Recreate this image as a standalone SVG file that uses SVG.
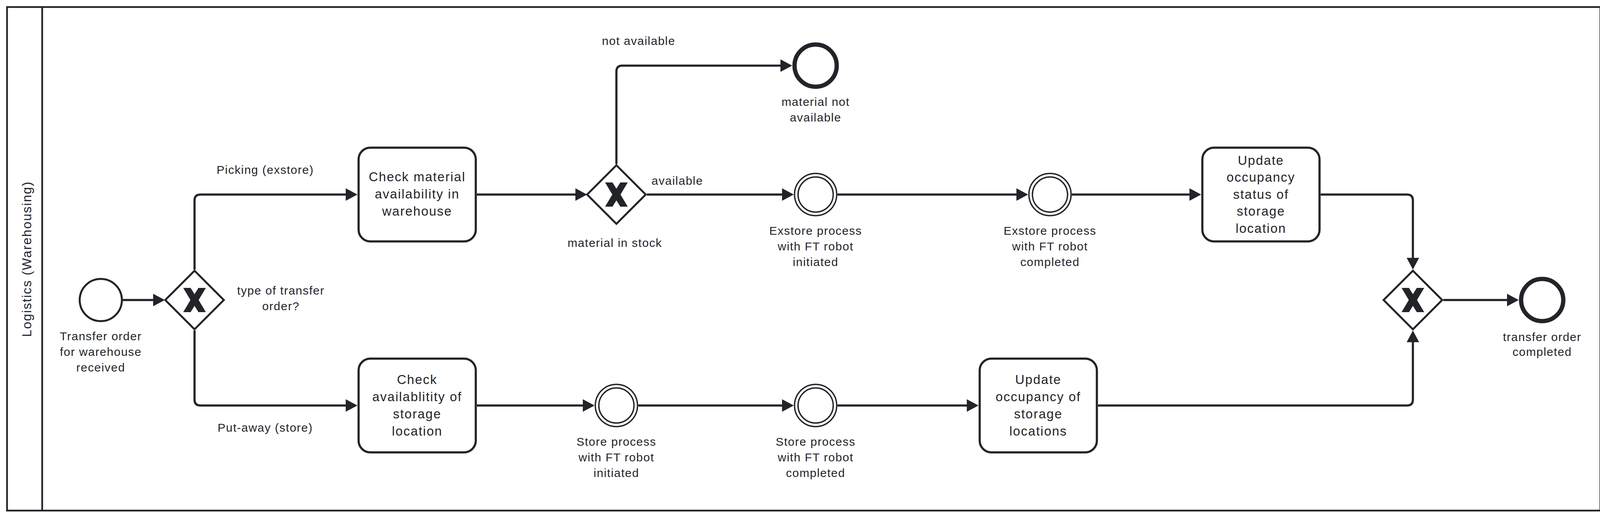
<svg xmlns="http://www.w3.org/2000/svg" xmlns:xlink="http://www.w3.org/1999/xlink" width="4116" height="1326" viewBox="0 0 4116 1326">
<style>
.ln{fill:none;stroke:#22242a;stroke-width:5.5;stroke-linejoin:round}
.task{fill:#fff;stroke:#22242a;stroke-width:5.5}
.gw{fill:#fff;stroke:#22242a;stroke-width:5;stroke-linejoin:miter}
.start{fill:#fff;stroke:#22242a;stroke-width:5}
.end{fill:#fff;stroke:#22242a;stroke-width:11}
.inter{fill:#fff;stroke:#22242a;stroke-width:3.5}
.mk{fill:#22242a;stroke:none}
.tt{font-family:"Liberation Sans",Arial,sans-serif;font-size:33px;letter-spacing:2px;fill:#22242a;text-anchor:middle}
.lb{font-family:"Liberation Sans",Arial,sans-serif;font-size:30px;letter-spacing:1.5px;fill:#22242a;text-anchor:middle}
</style>
<defs>
<marker id="arrow" markerUnits="userSpaceOnUse" viewBox="0 0 30 32" markerWidth="30" markerHeight="32" refX="20" refY="16" orient="auto">
<path d="M0,0 L30,16 L0,32 Z" fill="#22242a"/>
</marker>
<path id="xmark" d="M-29,-31 L-10,-31 L0,-15 L10,-31 L29,-31 L10.5,0 L29,31 L10,31 L0,15 L-10,31 L-29,31 L-10.5,0 Z"/>
</defs>
<rect width="4116" height="1326" fill="#fff"/>
<g id="lane">
<rect x="18" y="18" width="4079" height="1289" fill="none" stroke="#22242a" stroke-width="4.5"/>
<line x1="108" y1="18" x2="108" y2="1307" stroke="#22242a" stroke-width="4.5"/>
<text class="tt" transform="translate(80,663) rotate(-90)">Logistics (Warehousing)</text>
</g>
<g id="connectors" marker-end="url(#arrow)">
<path class="ln" d="M314,768 L412,768"/>
<path class="ln" d="M498,690 L498,513 Q498,498 513,498 L905,498"/>
<path class="ln" d="M498,846 L498,1023 Q498,1038 513,1038 L905,1038"/>
<path class="ln" d="M1221,498 L1493,498"/>
<path class="ln" d="M1578,420 L1578,183 Q1578,168 1593,168 L2018,168"/>
<path class="ln" d="M1656,498 L2022,498"/>
<path class="ln" d="M2144,498 L2622,498"/>
<path class="ln" d="M2744,498 L3065,498"/>
<path class="ln" d="M3381,498 L3602,498 Q3617,498 3617,513 L3617,680"/>
<path class="ln" d="M1221,1038 L1512,1038"/>
<path class="ln" d="M1634,1038 L2022,1038"/>
<path class="ln" d="M2144,1038 L2495,1038"/>
<path class="ln" d="M2811,1038 L3602,1038 Q3617,1038 3617,1023 L3617,856"/>
<path class="ln" d="M3695,768 L3878,768"/>
</g>
<g id="flow-labels">
<text class="lb" x="679" y="445">Picking (exstore)</text>
<text class="lb" x="679" y="1105">Put-away (store)</text>
<text class="lb" x="1635" y="115">not available</text>
<text class="lb" x="1734" y="473">available</text>
</g>
<g id="start">
<circle class="start" cx="258" cy="768" r="54"/>
<text class="lb" x="258" y="871">Transfer order</text>
<text class="lb" x="258" y="911">for warehouse</text>
<text class="lb" x="258" y="951">received</text>
</g>
<g id="gw1">
<path class="gw" d="M498,693 L573,768 L498,843 L423,768 Z"/>
<use xlink:href="#xmark" href="#xmark" class="mk" x="498" y="768"/>
<text class="lb" x="719" y="754">type of transfer</text>
<text class="lb" x="719" y="794">order?</text>
</g>
<g id="task1">
<rect class="task" x="918" y="378" width="300" height="240" rx="30"/>
<text class="tt" x="1068" y="464">Check material</text>
<text class="tt" x="1068" y="508">availability in</text>
<text class="tt" x="1068" y="552">warehouse</text>
</g>
<g id="task2">
<rect class="task" x="918" y="918" width="300" height="240" rx="30"/>
<text class="tt" x="1068" y="983">Check</text>
<text class="tt" x="1068" y="1027">availablitity of</text>
<text class="tt" x="1068" y="1071">storage</text>
<text class="tt" x="1068" y="1115">location</text>
</g>
<g id="gw2">
<path class="gw" d="M1578,423 L1653,498 L1578,573 L1503,498 Z"/>
<use xlink:href="#xmark" href="#xmark" class="mk" x="1578" y="498"/>
<text class="lb" x="1574" y="632">material in stock</text>
</g>
<g id="end1">
<circle class="end" cx="2088" cy="168" r="54"/>
<text class="lb" x="2088" y="271">material not</text>
<text class="lb" x="2088" y="311">available</text>
</g>
<g id="int1">
<circle class="inter" cx="2088" cy="498" r="54"/>
<circle class="inter" cx="2088" cy="498" r="45"/>
<text class="lb" x="2088" y="601">Exstore process</text>
<text class="lb" x="2088" y="641">with FT robot</text>
<text class="lb" x="2088" y="681">initiated</text>
</g>
<g id="int2">
<circle class="inter" cx="2688" cy="498" r="54"/>
<circle class="inter" cx="2688" cy="498" r="45"/>
<text class="lb" x="2688" y="601">Exstore process</text>
<text class="lb" x="2688" y="641">with FT robot</text>
<text class="lb" x="2688" y="681">completed</text>
</g>
<g id="task3">
<rect class="task" x="3078" y="378" width="300" height="240" rx="30"/>
<text class="tt" x="3228" y="422">Update</text>
<text class="tt" x="3228" y="465">occupancy</text>
<text class="tt" x="3228" y="509">status of</text>
<text class="tt" x="3228" y="552">storage</text>
<text class="tt" x="3228" y="596">location</text>
</g>
<g id="int3">
<circle class="inter" cx="1578" cy="1038" r="54"/>
<circle class="inter" cx="1578" cy="1038" r="45"/>
<text class="lb" x="1578" y="1141">Store process</text>
<text class="lb" x="1578" y="1181">with FT robot</text>
<text class="lb" x="1578" y="1221">initiated</text>
</g>
<g id="int4">
<circle class="inter" cx="2088" cy="1038" r="54"/>
<circle class="inter" cx="2088" cy="1038" r="45"/>
<text class="lb" x="2088" y="1141">Store process</text>
<text class="lb" x="2088" y="1181">with FT robot</text>
<text class="lb" x="2088" y="1221">completed</text>
</g>
<g id="task4">
<rect class="task" x="2508" y="918" width="300" height="240" rx="30"/>
<text class="tt" x="2658" y="983">Update</text>
<text class="tt" x="2658" y="1027">occupancy of</text>
<text class="tt" x="2658" y="1071">storage</text>
<text class="tt" x="2658" y="1115">locations</text>
</g>
<g id="gw3">
<path class="gw" d="M3617,693 L3692,768 L3617,843 L3542,768 Z"/>
<use xlink:href="#xmark" href="#xmark" class="mk" x="3617" y="768"/>
</g>
<g id="end2">
<circle class="end" cx="3948" cy="768" r="54"/>
<text class="lb" x="3948" y="873">transfer order</text>
<text class="lb" x="3948" y="911">completed</text>
</g>
</svg>
